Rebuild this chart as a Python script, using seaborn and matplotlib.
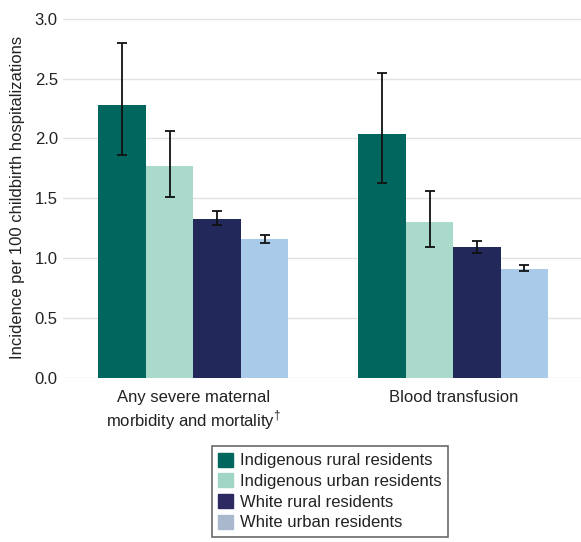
import pandas as pd
import seaborn as sns
import matplotlib.pyplot as plt

# values
outcomes = ['Any severe maternal\nmorbidity and mortality$^{\\dag}$',
            'Blood transfusion']
groups = ['Indigenous rural residents', 'Indigenous urban residents',
          'White rural residents', 'White urban residents']
rates = {
    'Indigenous rural residents': [2.28, 2.04],
    'Indigenous urban residents': [1.77, 1.30],
    'White rural residents': [1.33, 1.09],
    'White urban residents': [1.16, 0.91],
}
ci_low = {
    'Indigenous rural residents': [1.86, 1.63],
    'Indigenous urban residents': [1.51, 1.09],
    'White rural residents': [1.28, 1.04],
    'White urban residents': [1.13, 0.89],
}
ci_high = {
    'Indigenous rural residents': [2.80, 2.55],
    'Indigenous urban residents': [2.06, 1.56],
    'White rural residents': [1.39, 1.14],
    'White urban residents': [1.19, 0.94],
}
colors = ['#00665e', '#a9dacc', '#23285b', '#a9cbe9']
legend_colors = ['#00665e', '#a0d4c4', '#2d2a62', '#a9b8cc']

rows = []
for g in groups:
    for i, o in enumerate(outcomes):
        rows.append({'Outcome': o, 'Group': g, 'Rate': rates[g][i]})
df = pd.DataFrame(rows)

sns.set_style('whitegrid')
plt.rcParams['font.family'] = ['Liberation Sans', 'DejaVu Sans']
plt.rcParams['mathtext.fontset'] = 'custom'
plt.rcParams['mathtext.rm'] = 'Liberation Sans'

fig = plt.figure(figsize=(5.81, 5.42), dpi=100)
ax = fig.add_axes([0.109, 0.303, 0.895, 0.667])
sns.barplot(data=df, x='Outcome', y='Rate', hue='Group', hue_order=groups,
            palette=colors, errorbar=None, width=0.73, saturation=1,
            linewidth=0, ax=ax)

# confidence intervals on each bar
for g, cont in zip(groups, ax.containers):
    xs = [b.get_x() + b.get_width() / 2 for b in cont]
    ys = rates[g]
    err = [[y - lo for y, lo in zip(ys, ci_low[g])],
           [hi - y for y, hi in zip(ys, ci_high[g])]]
    ax.errorbar(xs, ys, yerr=err, fmt='none', ecolor='#111111',
                elinewidth=1.3, capsize=3.5, capthick=1.3)

ax.set_ylim(0, 3.02)
ax.set_yticks([0, 0.5, 1.0, 1.5, 2.0, 2.5, 3.0])
ax.set_yticklabels(['0.0', '0.5', '1.0', '1.5', '2.0', '2.5', '3.0'])
ax.set_xlim(-0.5, 1.5)
ax.grid(axis='x', visible=False)
ax.grid(axis='y', color='#e2e2e2', linewidth=1)
for s in ax.spines.values():
    s.set_visible(False)
ax.tick_params(axis='both', length=0, labelsize=12, colors='#222222')
ax.tick_params(axis='y', pad=4)
ax.tick_params(axis='x', pad=9)
for t in ax.get_xticklabels():
    t.set_linespacing(1.2)
ax.set_xlabel('')
ax.set_ylabel('Incidence per 100 childbirth hospitalizations',
              fontsize=12, color='#222222', labelpad=7)

ax.get_legend().remove()
handles = [plt.Rectangle((0, 0), 1, 1, color=c) for c in legend_colors]
leg = fig.legend(handles, groups, loc='upper center',
                 bbox_to_anchor=(0.568, 0.177), frameon=True, fancybox=False,
                 fontsize=12, handlelength=0.9, handleheight=0.9,
                 handletextpad=0.4, labelspacing=0.3, borderpad=0.4,
                 borderaxespad=0)
leg.get_frame().set_edgecolor('#444444')
leg.get_frame().set_linewidth(1.2)
for t in leg.get_texts():
    t.set_color('#222222')

fig.savefig('out.png', dpi=100)
